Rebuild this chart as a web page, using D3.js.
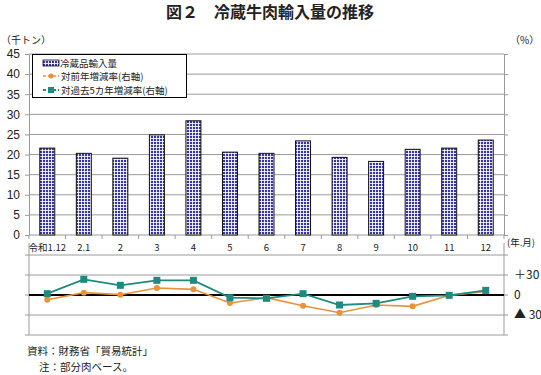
<!DOCTYPE html>
<html>
<head>
<meta charset="utf-8">
<script src="https://cdn.jsdelivr.net/npm/d3@7"></script>
<style>
  body { margin: 0; background: #fff; }
  text { font-family: "Liberation Sans", Arial, "Noto Sans CJK JP", sans-serif; fill: #222; }
  .jp { font-family: "Noto Sans CJK JP", sans-serif; }
</style>
</head>
<body>
<script>
/// data
var months = ["令和1.12", "2.1", "2", "3", "4", "5", "6", "7", "8", "9", "10", "11", "12"];
var imports = [21.6, 20.3, 19.1, 24.9, 28.4, 20.6, 20.3, 23.4, 19.3, 18.3, 21.3, 21.6, 23.6];
var yoyRate = [-7, 3.5, 0.5, 10.5, 8.5, -12, -4, -16, -26.5, -15, -17, -0.5, 5.5];
var fiveYearRate = [2, 23.5, 14.5, 22, 22, -4, -5, 2, -15, -12.5, -2, -0.5, 7];
var topTicks = [0, 5, 10, 15, 20, 25, 30, 35, 40, 45];
var lowTicks = [60, 30, 0, -30, -60];
var lowLabels = [{v: 30, t: "＋30"}, {v: 0, t: "0"}, {v: -30, t: "▲ 30"}];

var W = 541, H = 375;
var left = 29, right = 504;
var gridColor = "#9a9a9a", orange = "#e8923a", teal = "#1f8a7e";

var svg = d3.select("body").append("svg")
            .attr("width", W).attr("height", H);

// bar pattern
var defs = svg.append("defs");
var pat = defs.append("pattern")
              .attr("id", "grid")
              .attr("patternUnits", "userSpaceOnUse")
              .attr("width", 3).attr("height", 3);
pat.append("rect").attr("width", 3).attr("height", 3).attr("fill", "#36369e");
pat.append("rect").attr("x", 0).attr("y", 0).attr("width", 3).attr("height", 1).attr("fill", "#fff").attr("opacity", 0.85);
pat.append("rect").attr("x", 0).attr("y", 0).attr("width", 1).attr("height", 3).attr("fill", "#fff").attr("opacity", 0.85);

/// scales
var x = d3.scaleBand().domain(months).range([left, right])
          .paddingInner(0.59).paddingOuter(0.295);
var yTop = d3.scaleLinear().domain([0, 45]).range([235, 54]);
var yLow = d3.scaleLinear().domain([-60, 60]).range([335, 255]);
var cx = d => x(d) + x.bandwidth() / 2;

// title
svg.append("text")
   .attr("class", "jp")
   .attr("x", 270).attr("y", 18)
   .attr("text-anchor", "middle")
   .style("font-size", "16px").style("font-weight", "bold")
   .text("図２　冷蔵牛肉輸入量の推移");

svg.append("text").attr("class", "jp")
   .attr("x", 1).attr("y", 44).style("font-size", "10px")
   .text("（千トン）");
svg.append("text").attr("class", "jp")
   .attr("x", 510).attr("y", 44).style("font-size", "10px")
   .text("（%）");

/// top chart
var topG = svg.append("g");

// gridlines
topG.selectAll(".grid")
    .data(topTicks.filter(d => d > 0))
    .enter().append("line")
    .attr("x1", left).attr("x2", right)
    .attr("y1", d => yTop(d)).attr("y2", d => yTop(d))
    .attr("stroke", gridColor).attr("stroke-width", 1);

// left axis
var leftAxis = topG.append("g")
                   .attr("transform", "translate(" + left + ",0)")
                   .call(d3.axisLeft(yTop).tickValues(topTicks).tickSize(4).tickSizeOuter(0).tickPadding(5));
leftAxis.selectAll("line, path").attr("stroke", gridColor);
leftAxis.selectAll("text").style("font-size", "12px").attr("fill", "#111")
        .style("font-family", "'Liberation Sans', Arial, sans-serif");

// right axis (ticks only)
var rightAxis = topG.append("g")
                    .attr("transform", "translate(" + right + ",0)")
                    .call(d3.axisRight(yTop).tickValues(topTicks).tickSize(4).tickSizeOuter(0).tickFormat(""));
rightAxis.selectAll("line, path").attr("stroke", gridColor);

// bottom axis line and category ticks
topG.append("line")
    .attr("x1", left).attr("x2", right)
    .attr("y1", yTop(0)).attr("y2", yTop(0))
    .attr("stroke", gridColor);

topG.selectAll(".ctick")
    .data(d3.range(months.length + 1))
    .enter().append("line")
    .attr("x1", i => left + i * x.step()).attr("x2", i => left + i * x.step())
    .attr("y1", yTop(0)).attr("y2", yTop(0) + 4)
    .attr("stroke", gridColor);

topG.selectAll(".clabel")
    .data(months)
    .enter().append("text")
    .attr("class", "jp")
    .attr("x", d => cx(d)).attr("y", 251)
    .attr("text-anchor", "middle")
    .style("font-size", "9.5px")
    .text(d => d);

svg.append("text").attr("class", "jp")
   .attr("x", 507).attr("y", 246).style("font-size", "9.5px")
   .text("(年.月)");

// bars
topG.selectAll(".bar")
    .data(months)
    .enter().append("rect")
    .attr("x", d => x(d))
    .attr("width", x.bandwidth())
    .attr("y", (d, i) => yTop(imports[i]))
    .attr("height", (d, i) => yTop(0) - yTop(imports[i]))
    .attr("fill", "url(#grid)")
    .attr("stroke", "#111").attr("stroke-width", 1);

/// lower chart
var low = svg.append("g");

low.append("line")
   .attr("x1", left).attr("x2", left).attr("y1", 243).attr("y2", 335)
   .attr("stroke", gridColor);
low.append("line")
   .attr("x1", right).attr("x2", right).attr("y1", 243).attr("y2", 335)
   .attr("stroke", gridColor);

low.selectAll(".lgrid")
   .data(lowTicks.filter(d => d !== 0))
   .enter().append("line")
   .attr("x1", left - 4).attr("x2", right + 4)
   .attr("y1", d => yLow(d)).attr("y2", d => yLow(d))
   .attr("stroke", gridColor);

low.append("line")
   .attr("x1", left - 4).attr("x2", left).attr("y1", yLow(0)).attr("y2", yLow(0))
   .attr("stroke", gridColor);
low.append("line")
   .attr("x1", right).attr("x2", right + 4).attr("y1", yLow(0)).attr("y2", yLow(0))
   .attr("stroke", gridColor);

low.append("line")
   .attr("x1", left).attr("x2", right)
   .attr("y1", yLow(0)).attr("y2", yLow(0))
   .attr("stroke", "#000").attr("stroke-width", 2);

low.selectAll(".llabel")
   .data(lowLabels)
   .enter().append("text")
   .attr("class", "jp")
   .attr("x", 514).attr("y", d => yLow(d.v) + 4)
   .style("font-size", "12px")
   .text(d => d.t);

var line = d3.line().x((d, i) => cx(months[i])).y(d => yLow(d));

low.append("path")
   .datum(yoyRate)
   .attr("d", line)
   .attr("fill", "none").attr("stroke", orange).attr("stroke-width", 1.6);
low.selectAll(".yoy")
   .data(yoyRate)
   .enter().append("circle")
   .attr("cx", (d, i) => cx(months[i])).attr("cy", d => yLow(d))
   .attr("r", 3).attr("fill", orange);

low.append("path")
   .datum(fiveYearRate)
   .attr("d", line)
   .attr("fill", "none").attr("stroke", teal).attr("stroke-width", 1.8);
low.selectAll(".five")
   .data(fiveYearRate)
   .enter().append("rect")
   .attr("x", (d, i) => cx(months[i]) - 3.5).attr("y", d => yLow(d) - 3.5)
   .attr("width", 7).attr("height", 7).attr("fill", teal);

/// legend
var lg = svg.append("g");
lg.append("rect")
  .attr("x", 32.5).attr("y", 54.5).attr("width", 154).attr("height", 43)
  .attr("fill", "#fff").attr("stroke", "#000").attr("stroke-width", 1);

lg.append("rect")
  .attr("x", 43).attr("y", 60).attr("width", 16).attr("height", 6)
  .attr("fill", "url(#grid)").attr("stroke", "#111").attr("stroke-width", 0.8);
lg.append("text").attr("class", "jp")
  .attr("x", 60).attr("y", 66.5).style("font-size", "9.5px")
  .text("冷蔵品輸入量");

lg.append("line")
  .attr("x1", 43).attr("x2", 59).attr("y1", 76).attr("y2", 76)
  .attr("stroke", orange).attr("stroke-width", 1.5).attr("stroke-dasharray", "3,2");
lg.append("circle").attr("cx", 51).attr("cy", 76).attr("r", 2.5).attr("fill", orange);
lg.append("text").attr("class", "jp")
  .attr("x", 61).attr("y", 79.5).style("font-size", "9.5px")
  .text("対前年増減率(右軸)");

lg.append("line")
  .attr("x1", 43).attr("x2", 59).attr("y1", 90).attr("y2", 90)
  .attr("stroke", teal).attr("stroke-width", 1.8).attr("stroke-dasharray", "3,2");
lg.append("rect").attr("x", 48).attr("y", 87).attr("width", 6).attr("height", 6).attr("fill", teal);
lg.append("text").attr("class", "jp")
  .attr("x", 61).attr("y", 93.5).style("font-size", "9.5px")
  .text("対過去5カ年増減率(右軸)");

/// notes
svg.append("text").attr("class", "jp")
   .attr("x", 27).attr("y", 355).style("font-size", "10.5px")
   .text("資料：財務省「貿易統計」");
svg.append("text").attr("class", "jp")
   .attr("x", 39).attr("y", 371).style("font-size", "10.5px")
   .text("注：部分肉ベース。");
</script>
</body>
</html>
